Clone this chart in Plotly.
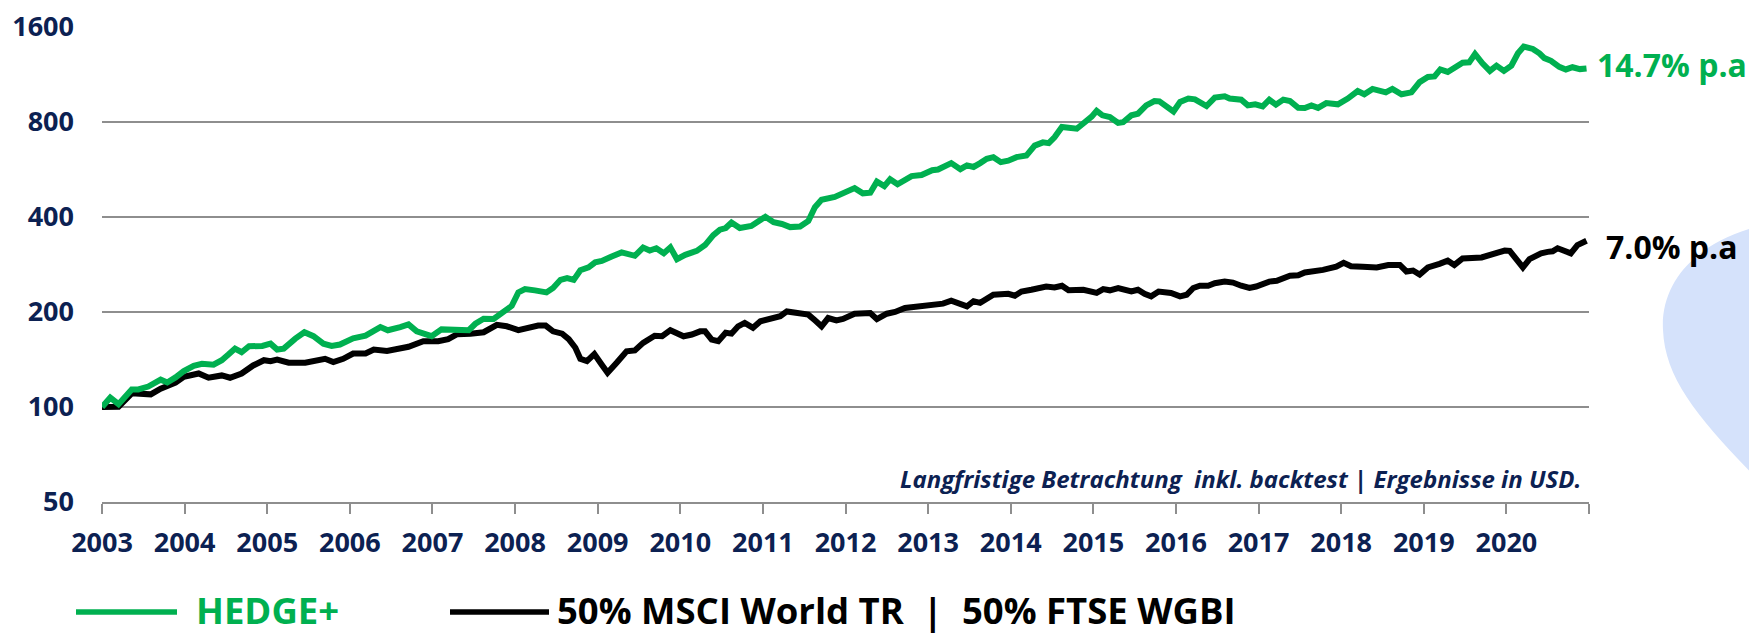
import numpy as np
import plotly.graph_objects as go

# ---------------- data ----------------
hedge_t = [2003.00, 2003.10, 2003.20, 2003.36, 2003.44, 2003.56, 2003.71, 2003.79, 2003.89, 2003.99,
           2004.11, 2004.21, 2004.35, 2004.45, 2004.53, 2004.61, 2004.69, 2004.78, 2004.94,
           2005.04, 2005.12, 2005.20, 2005.34, 2005.45, 2005.56, 2005.68, 2005.78, 2005.88,
           2006.04, 2006.19, 2006.37, 2006.46, 2006.61, 2006.71, 2006.81, 2006.89, 2006.99,
           2007.11, 2007.36, 2007.44, 2007.52, 2007.62, 2007.74, 2007.86, 2007.96,
           2008.04, 2008.12, 2008.24, 2008.32, 2008.38, 2008.46, 2008.55, 2008.63, 2008.71, 2008.79, 2008.89, 2008.97,
           2009.05, 2009.17, 2009.29, 2009.45, 2009.55, 2009.63, 2009.71, 2009.80, 2009.88, 2009.96,
           2010.06, 2010.20, 2010.30, 2010.40, 2010.48, 2010.55, 2010.62, 2010.72, 2010.86,
           2011.03, 2011.13, 2011.23, 2011.33, 2011.45, 2011.55, 2011.63, 2011.71, 2011.87, 2011.97,
           2012.11, 2012.21, 2012.30, 2012.38, 2012.47, 2012.54, 2012.63, 2012.80, 2012.92,
           2013.05, 2013.12, 2013.28, 2013.39, 2013.47, 2013.55, 2013.63, 2013.71, 2013.79, 2013.88, 2013.97,
           2014.07, 2014.19, 2014.29, 2014.39, 2014.46, 2014.53, 2014.62, 2014.80, 2014.90, 2014.98,
           2015.04, 2015.11, 2015.20, 2015.30, 2015.36, 2015.46, 2015.54, 2015.64, 2015.74, 2015.80, 2015.97,
           2016.05, 2016.15, 2016.23, 2016.37, 2016.47, 2016.59, 2016.65, 2016.79, 2016.87, 2016.96,
           2017.05, 2017.13, 2017.21, 2017.30, 2017.38, 2017.48, 2017.56, 2017.64, 2017.72, 2017.82, 2017.96,
           2018.08, 2018.20, 2018.28, 2018.38, 2018.54, 2018.62, 2018.73, 2018.85, 2018.95,
           2019.05, 2019.13, 2019.20, 2019.29, 2019.39, 2019.47, 2019.55, 2019.62, 2019.71, 2019.80, 2019.88, 2019.97,
           2020.06, 2020.14, 2020.21, 2020.32, 2020.40, 2020.46, 2020.54, 2020.64, 2020.72, 2020.80, 2020.89, 2020.97]
hedge_v = [100, 107, 102, 113.6, 113.6, 116, 122, 119.5, 124, 129.8,
           135, 137, 136, 140.6, 146.5, 153, 149, 155.6, 156,
           158.6, 152, 153, 164.5, 172.4, 167.5, 158.6, 156, 157.6,
           165, 168.2, 179, 174.9, 179, 182.6, 173.5, 171.6, 167.5,
           176, 176.6, 175, 183.4, 190.3, 190, 200.6, 209,
           230.5, 236.3, 233.9, 233.4, 230.5, 238, 252.6, 256, 252.6, 271, 276.6, 287,
           290, 299.5, 308.6, 301, 319.5, 312.7, 318, 306.5, 320, 293.7,
           303, 312, 325.5, 350, 364, 368.5, 383.7, 368.5, 374,
           400, 384.5, 379.6, 371, 372.5, 387.7, 429, 453, 462.5, 477,
           493, 474.5, 476.6, 516.8, 500, 525.7, 507, 538, 542.6,
           561.7, 564.6, 591.5, 566, 582, 575.2, 591.5, 610.5, 617.8, 595.8, 602,
           617.8, 625, 672, 688, 684, 714, 770, 760, 797, 830,
           866, 838, 828, 793, 797, 838, 848, 901, 930, 928, 862,
           924, 947, 942, 897, 954, 963, 947, 939, 901, 908,
           894, 939, 906, 940, 930, 885, 884, 901, 885, 916, 908,
           947, 1000, 977, 1016, 991, 1016, 977, 991, 1068,
           1108, 1113, 1171, 1150, 1194, 1230, 1233, 1311, 1224, 1159, 1204, 1159,
           1204, 1317, 1383, 1360, 1317, 1272, 1247, 1193, 1171, 1190, 1174, 1180]

bench_t = [2003.00, 2003.20, 2003.36, 2003.59, 2003.71, 2003.89, 2003.99,
           2004.17, 2004.29, 2004.45, 2004.55, 2004.69, 2004.83, 2004.96,
           2005.04, 2005.12, 2005.26, 2005.46, 2005.70, 2005.80, 2005.92,
           2006.04, 2006.19, 2006.29, 2006.45, 2006.61, 2006.71, 2006.89,
           2007.07, 2007.19, 2007.30, 2007.46, 2007.62, 2007.78, 2007.90,
           2008.04, 2008.16, 2008.28, 2008.37, 2008.46, 2008.57, 2008.65, 2008.73, 2008.79, 2008.87, 2008.96,
           2009.05, 2009.12, 2009.23, 2009.35, 2009.45, 2009.55, 2009.69, 2009.78, 2009.88,
           2010.04, 2010.14, 2010.24, 2010.30, 2010.38, 2010.46, 2010.55, 2010.62, 2010.70, 2010.78, 2010.88, 2010.97,
           2011.05, 2011.15, 2011.21, 2011.29, 2011.43, 2011.55, 2011.63, 2011.71, 2011.79, 2011.89, 2011.97,
           2012.11, 2012.30, 2012.38, 2012.50, 2012.60, 2012.72, 2012.94,
           2013.06, 2013.18, 2013.28, 2013.47, 2013.55, 2013.63, 2013.79, 2013.97,
           2014.05, 2014.13, 2014.25, 2014.43, 2014.53, 2014.62, 2014.70, 2014.88,
           2015.04, 2015.12, 2015.20, 2015.30, 2015.46, 2015.54, 2015.62, 2015.70, 2015.79, 2015.94,
           2016.05, 2016.13, 2016.21, 2016.29, 2016.39, 2016.47, 2016.59, 2016.69, 2016.79, 2016.89, 2016.97,
           2017.13, 2017.22, 2017.38, 2017.48, 2017.56, 2017.78, 2017.94,
           2018.03, 2018.12, 2018.26, 2018.43, 2018.57, 2018.71, 2018.79, 2018.87, 2018.95,
           2019.05, 2019.19, 2019.29, 2019.37, 2019.47, 2019.70, 2019.88, 2019.98,
           2020.04, 2020.12, 2020.20, 2020.28, 2020.42, 2020.50, 2020.56, 2020.62, 2020.70, 2020.78, 2020.86, 2020.97]
bench_v = [100, 100.2, 110.4, 109.6, 114.2, 119.3, 124.6,
           127.6, 123.7, 125.8, 123.7, 127.6, 135.3, 140.6,
           139.6, 141.3, 138, 138, 142, 138.6, 142,
           147.6, 147.6, 152, 150.5, 154, 155, 161.5,
           161.5, 164, 170, 170.6, 172.4, 182, 180,
           175, 178, 180.9, 180.9, 173.5, 170.6, 164, 154, 142, 139.6, 147,
           136, 128.3, 138, 150, 151, 159.5, 168, 167.4, 175,
           167.4, 169.5, 173.5, 173.5, 163.3, 161.5, 171.7, 170.6, 180, 184.6, 178, 186.7,
           188.9, 193.7, 193.7, 200.6, 197.3, 196, 188, 180, 191.2, 188, 190,
           197.3, 198.2, 189.7, 197.3, 199.8, 205.8, 209.4,
           212.3, 212.3, 216.8, 208.3, 216.1, 213.5, 226.5, 228.1,
           225, 232, 235, 240.6, 239, 242, 234, 235,
           229.6, 236, 234, 238, 232, 235, 228.1, 224, 232, 229.6,
           224, 226.5, 238, 242, 242, 246.5, 249.3, 247.6, 242, 238, 240.6,
           249.3, 251, 260.4, 261, 266.5, 271.6, 278,
           285.9, 279, 278, 276.6, 281.5, 281.5, 268.4, 270.3, 262.6,
           276.6, 283.7, 290.4, 281.5, 295.2, 297.4, 306.5, 312.7,
           312, 293.7, 276.6, 293.7, 306.5, 309.7, 311, 318, 312.7, 306.5, 325.5, 336]

year_ticks = list(range(2003, 2022))
year_labels = [str(y) for y in range(2003, 2021)] + [""]
y_ticks = [50, 100, 200, 400, 800, 1600]
y_labels = ["50", "100", "200", "400", "800", "1600"]

hedge_name = "HEDGE+"
bench_name = "50% MSCI World TR\u00a0\u00a0|\u00a0\u00a050% FTSE WGBI"
hedge_cagr = "14.7% p.a"
bench_cagr = "7.0% p.a"
note_text = "Langfristige Betrachtung\u00a0\u00a0inkl. backtest | Ergebnisse in USD."

# ---------------- styling ----------------
GREEN = "#00b050"
BLACK = "#000000"
NAVY = "#0c2152"
GRID = "#8e8e8e"
BLOB = "#d5e2fb"
FONT = "Open Sans"

W, H = 1749, 637
L, R, T, B = 102, 1589, 26, 502


def px2x(px):
    return (px - L) / (R - L)


def py2y(py):
    return (B - py) / (B - T)


fig = go.Figure()
fig.add_trace(go.Scatter(x=bench_t, y=bench_v, mode="lines", name=bench_name,
                         line=dict(color=BLACK, width=6), showlegend=False, hoverinfo="skip"))
fig.add_trace(go.Scatter(x=hedge_t, y=hedge_v, mode="lines", name=hedge_name,
                         line=dict(color=GREEN, width=6), showlegend=False, hoverinfo="skip"))

# decorative blob at right edge
blob_pts = [(1760, 226), (1700, 240), (1660, 280), (1663, 330), (1665, 380), (1700, 420), (1760, 482)]
p = [(px2x(a), py2y(b)) for a, b in blob_pts]
blob_path = (f"M {p[0][0]},{p[0][1]} C {p[1][0]},{p[1][1]} {p[2][0]},{p[2][1]} {p[3][0]},{p[3][1]} "
             f"C {p[4][0]},{p[4][1]} {p[5][0]},{p[5][1]} {p[6][0]},{p[6][1]} Z")
shapes = [dict(type="path", xref="paper", yref="paper", path=blob_path,
               fillcolor=BLOB, line=dict(width=0), layer="below")]

# legend (custom, below chart)
LEG_LINE_Y = 612
LEG_TEXT_Y = 610
shapes.append(dict(type="line", xref="paper", yref="paper", x0=px2x(76), x1=px2x(177),
                   y0=py2y(LEG_LINE_Y), y1=py2y(LEG_LINE_Y), line=dict(color=GREEN, width=5.5)))
shapes.append(dict(type="line", xref="paper", yref="paper", x0=px2x(450), x1=px2x(549),
                   y0=py2y(LEG_LINE_Y), y1=py2y(LEG_LINE_Y), line=dict(color=BLACK, width=5.5)))

annotations = [
    dict(xref="paper", yref="paper", x=px2x(195), y=py2y(LEG_TEXT_Y), xanchor="left", yanchor="middle",
         text=hedge_name, showarrow=False, borderpad=0,
         font=dict(family=FONT, size=36.5, color=GREEN, weight="bold")),
    dict(xref="paper", yref="paper", x=px2x(556), y=py2y(LEG_TEXT_Y), xanchor="left", yanchor="middle",
         text=bench_name, showarrow=False, borderpad=0,
         font=dict(family=FONT, size=36.5, color=BLACK, weight="bold")),
    dict(xref="paper", yref="paper", x=px2x(1583), y=py2y(478), xanchor="right", yanchor="middle",
         text=note_text, showarrow=False,
         font=dict(family=FONT, size=24, color=NAVY, weight="bold", style="italic")),
    dict(xref="x", yref="y", x=hedge_t[-1], y=np.log10(hedge_v[-1]), xanchor="left", yanchor="middle",
         xshift=8, yshift=4, text=hedge_cagr, showarrow=False,
         font=dict(family=FONT, size=32, color=GREEN, weight="bold")),
    dict(xref="x", yref="y", x=bench_t[-1], y=np.log10(bench_v[-1]), xanchor="left", yanchor="middle",
         xshift=17, yshift=-6, text=bench_cagr, showarrow=False,
         font=dict(family=FONT, size=32, color=BLACK, weight="bold")),
]

fig.update_layout(
    template="none",
    width=W, height=H,
    margin=dict(l=L, r=W - R, t=T, b=H - B, pad=0),
    paper_bgcolor="white", plot_bgcolor="white",
    showlegend=False,
    shapes=shapes,
    annotations=annotations,
    xaxis=dict(
        type="linear", range=[2003, 2021], tickmode="array", tickvals=year_ticks, ticktext=year_labels,
        showgrid=False, zeroline=False, showline=True, linecolor=GRID, linewidth=2,
        ticks="outside", ticklen=10, tickwidth=2, tickcolor=GRID,
        tickfont=dict(family=FONT, size=27, color=NAVY, weight="bold"),
        ticklabelstandoff=6, automargin=False, fixedrange=True,
    ),
    yaxis=dict(
        type="log", range=[np.log10(50), np.log10(1600) + 0.002], tickmode="array",
        tickvals=y_ticks, ticktext=y_labels,
        showgrid=True, gridcolor=GRID, gridwidth=2, zeroline=False, showline=False,
        ticks="", tickfont=dict(family=FONT, size=27, color=NAVY, weight="bold"),
        ticklabelstandoff=27, automargin=False, fixedrange=True,
    ),
)

fig.write_html(
    "out.html",
    config={"displayModeBar": False},
    post_script="document.body.style.margin='0';document.body.style.padding='0';"
                "document.body.style.overflow='hidden';",
)
